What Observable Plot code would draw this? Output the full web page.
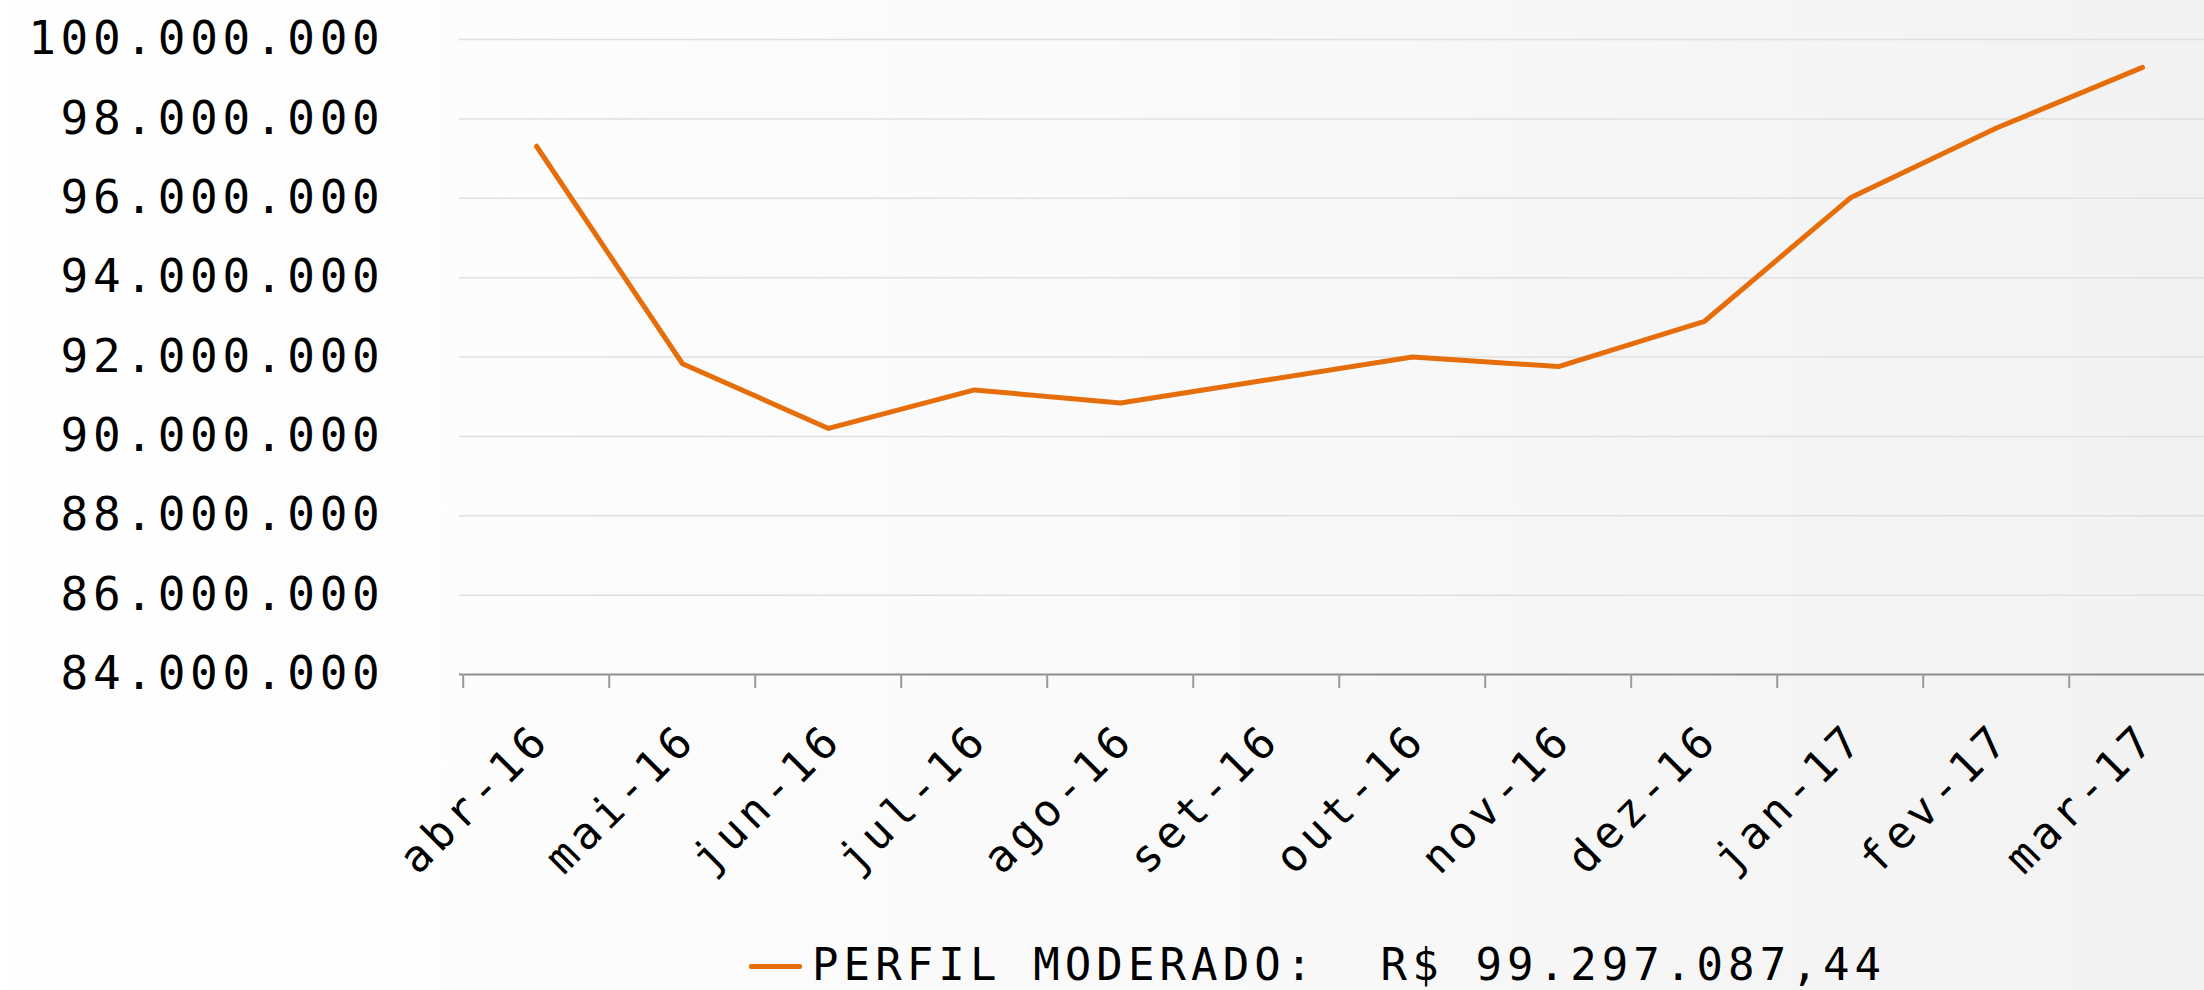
<!DOCTYPE html>
<html>
<head>
<meta charset="utf-8">
<script src="https://cdn.jsdelivr.net/npm/d3@7"></script>
<script src="https://cdn.jsdelivr.net/npm/@observablehq/plot@0.6"></script>
<style>
  html, body { margin: 0; padding: 0; }
  body {
    width: 2204px; height: 990px; overflow: hidden;
    background: linear-gradient(to right, #ffffff 0%, #fafafa 50%, #f2f2f2 100%);
    font-family: "DejaVu Sans Mono", monospace;
  }
  #chart svg { display: block; }
  g[aria-label="y-axis tick label"] text { letter-spacing: 4.7px; }
  g[aria-label="x-axis tick label"] text { letter-spacing: 5.3px; }
  #legend { position: relative; height: 70px; width: 2204px; }
  #legend .sw { position: absolute; left: 749px; top: 44px; width: 53px; height: 5px; background: #e66e0a; border-radius: 2px; }
  #legend .tx { position: absolute; left: 812px; top: 19px; font-size: 44px; line-height: 52px; letter-spacing: 5.1px; color: #000; white-space: pre; }
</style>
</head>
<body>
<div id="chart"></div>
<div id="legend"><div class="sw"></div><div class="tx" id="legendText"></div></div>
<script>
const months = ["abr-16","mai-16","jun-16","jul-16","ago-16","set-16","out-16","nov-16","dez-16","jan-17","fev-17","mar-17"];
const values = [97310000, 91830000, 90200000, 91170000, 90840000, 91420000, 92000000, 91760000, 92900000, 96010000, 97770000, 99297087.44];
const yTicks = [84000000, 86000000, 88000000, 90000000, 92000000, 94000000, 96000000, 98000000, 100000000];
const seriesName = "PERFIL MODERADO:  R$ 99.297.087,44";

const data = months.map((m, i) => ({month: m, value: values[i]}));
const loc = d3.formatLocale({decimal: ",", thousands: ".", grouping: [3], currency: ["R$ ", ""]});
const fmt = loc.format(",.0f");

const W = 2204, H = 920, ML = 459, MR = -14;
const step = (W - MR - ML) / months.length;

const chart = Plot.plot({
  width: W,
  height: H,
  marginTop: 39,
  marginBottom: 246,
  marginLeft: ML,
  marginRight: MR,
  style: {background: "transparent", fontFamily: "DejaVu Sans Mono, monospace", color: "#000", overflow: "hidden"},
  x: {type: "point", domain: months, padding: 0.5, label: null},
  y: {domain: [84000000, 100000000], label: null},
  marks: [
    Plot.ruleY(yTicks.slice(1), {stroke: "#e0e0e0", strokeWidth: 1.5}),
    Plot.ruleY([84000000], {stroke: "#8c8c8c", strokeWidth: 2}),
    Plot.axisX({ticks: months, tickSize: 14, tickFormat: () => "", dx: -step / 2, stroke: "#9a9a9a", strokeWidth: 2}),
    Plot.axisX({ticks: months, tickSize: 0, tickRotate: -45, tickPadding: 57, dx: 6, fontSize: 44, fill: "#000"}),
    Plot.axisY({ticks: yTicks, tickSize: 0, tickPadding: 75, tickFormat: fmt, fontSize: 46, fill: "#000"}),
    Plot.line(data, {x: "month", y: "value", stroke: "#e66e0a", strokeWidth: 5, strokeLinejoin: "round", strokeLinecap: "round"})
  ]
});
document.getElementById("chart").appendChild(chart);
document.getElementById("legendText").textContent = seriesName;
</script>
</body>
</html>
